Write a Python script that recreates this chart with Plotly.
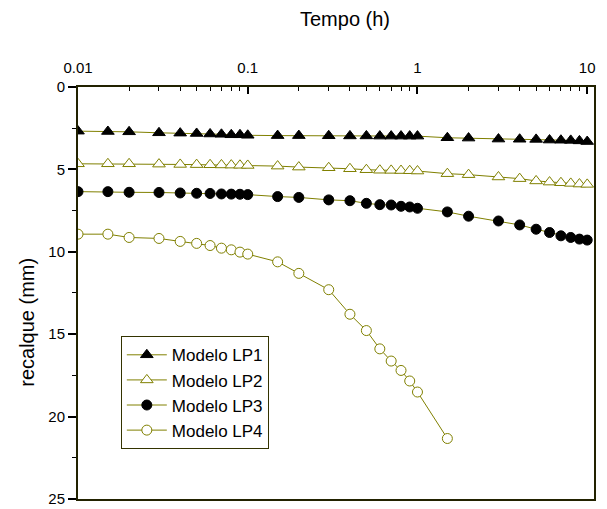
import plotly.graph_objects as go

tempo = [0.01, 0.015, 0.02, 0.03, 0.04, 0.05, 0.06, 0.07, 0.08, 0.09,
         0.1, 0.15, 0.2, 0.3, 0.4, 0.5, 0.6, 0.7, 0.8, 0.9,
         1, 1.5, 2, 3, 4, 5, 6, 7, 8, 9, 10]

lp1 = [2.68, 2.70, 2.72, 2.78, 2.80, 2.82, 2.85, 2.87, 2.90, 2.90,
       2.93, 2.95, 2.95, 2.96, 2.97, 2.97, 2.98, 2.98, 2.98, 2.98,
       2.98, 3.08, 3.10, 3.16, 3.17, 3.18, 3.22, 3.23, 3.24, 3.27, 3.31]

lp2 = [4.66, 4.66, 4.66, 4.68, 4.70, 4.71, 4.72, 4.73, 4.74, 4.75,
       4.76, 4.80, 4.86, 4.90, 4.96, 5.02, 5.05, 5.06, 5.07, 5.08,
       5.10, 5.26, 5.32, 5.46, 5.56, 5.70, 5.77, 5.81, 5.85, 5.89, 5.91]

lp3 = [6.35, 6.35, 6.39, 6.40, 6.43, 6.45, 6.46, 6.49, 6.50, 6.51,
       6.53, 6.65, 6.70, 6.85, 6.90, 7.06, 7.14, 7.16, 7.24, 7.28,
       7.36, 7.58, 7.84, 8.13, 8.37, 8.63, 8.83, 9.03, 9.13, 9.23, 9.29]

tempo4 = [0.01, 0.015, 0.02, 0.03, 0.04, 0.05, 0.06, 0.07, 0.08, 0.09,
          0.1, 0.15, 0.2, 0.3, 0.4, 0.5, 0.6, 0.7, 0.8, 0.9, 1, 1.5]
lp4 = [8.93, 8.93, 9.13, 9.19, 9.37, 9.49, 9.62, 9.78, 9.88, 10.02,
       10.14, 10.61, 11.31, 12.30, 13.79, 14.78, 15.89, 16.63, 17.20, 17.84,
       18.51, 21.33]

nomes = ["Modelo LP1", "Modelo LP2", "Modelo LP3", "Modelo LP4"]

OLIVE = "#808000"
fig = go.Figure()

styles = [
    dict(symbol="triangle-up", color="black", line=dict(color="black", width=1), size=11),
    dict(symbol="triangle-up", color="white", line=dict(color=OLIVE, width=1), size=11),
    dict(symbol="circle", color="black", line=dict(color="black", width=1), size=10),
    dict(symbol="circle", color="white", line=dict(color=OLIVE, width=1), size=10),
]
xs = [tempo, tempo, tempo, tempo4]
ys = [lp1, lp2, lp3, lp4]
for nome, x, y, st in zip(nomes, xs, ys, styles):
    fig.add_trace(go.Scatter(x=x, y=y, mode="lines+markers", name=nome,
                             line=dict(color=OLIVE, width=1), marker=st))

fig.update_layout(
    width=607, height=509,
    margin=dict(l=78, r=13, t=87, b=10),
    plot_bgcolor="white", paper_bgcolor="white",
    font=dict(family="Liberation Sans, Arial", size=15, color="black"),
    showlegend=True,
    legend=dict(x=0.083, y=0.395, xanchor="left", yanchor="top",
                bgcolor="white", bordercolor="#333300", borderwidth=1,
                font=dict(size=17), itemwidth=40),
    xaxis=dict(
        type="log", range=[-2, 1.04], side="top", automargin=False,
        tickvals=[0.01, 0.1, 1, 10], ticktext=["0.01", "0.1", "1", "10"],
        ticks="inside", ticklen=7, tickwidth=1.5, tickcolor="black",
        ticklabelstandoff=6,
        minor=dict(ticks="inside", ticklen=4, tickwidth=1, tickcolor="black",
                   tickvals=[m * 10 ** e for e in (-2, -1, 0) for m in range(2, 10)]),
        showline=True, linecolor="#222200", linewidth=2, mirror=True,
        showgrid=False, zeroline=False,
    ),
    yaxis=dict(
        range=[25.001, 0], tickvals=[0, 5, 10, 15, 20, 25], automargin=False,
        ticks="outside", ticklen=8, tickwidth=1.5, tickcolor="black",
        ticklabeloverflow="allow",
        minor=dict(ticks="outside", ticklen=4, tickwidth=1, tickcolor="black",
                   tickvals=[2.5, 7.5, 12.5, 17.5, 22.5]),
        showline=True, linecolor="#222200", linewidth=2, mirror=True,
        showgrid=False, zeroline=False,
    ),
    annotations=[
        dict(text="Tempo (h)", xref="paper", yref="paper", x=0.517, y=1.166,
             xanchor="center", yanchor="middle", showarrow=False,
             font=dict(size=20)),
        dict(text="recalque (mm)", xref="paper", yref="paper", x=-0.099, y=0.43,
             xanchor="center", yanchor="middle", showarrow=False, textangle=-90,
             font=dict(size=20)),
    ],
)

fig.write_html("out.html")
